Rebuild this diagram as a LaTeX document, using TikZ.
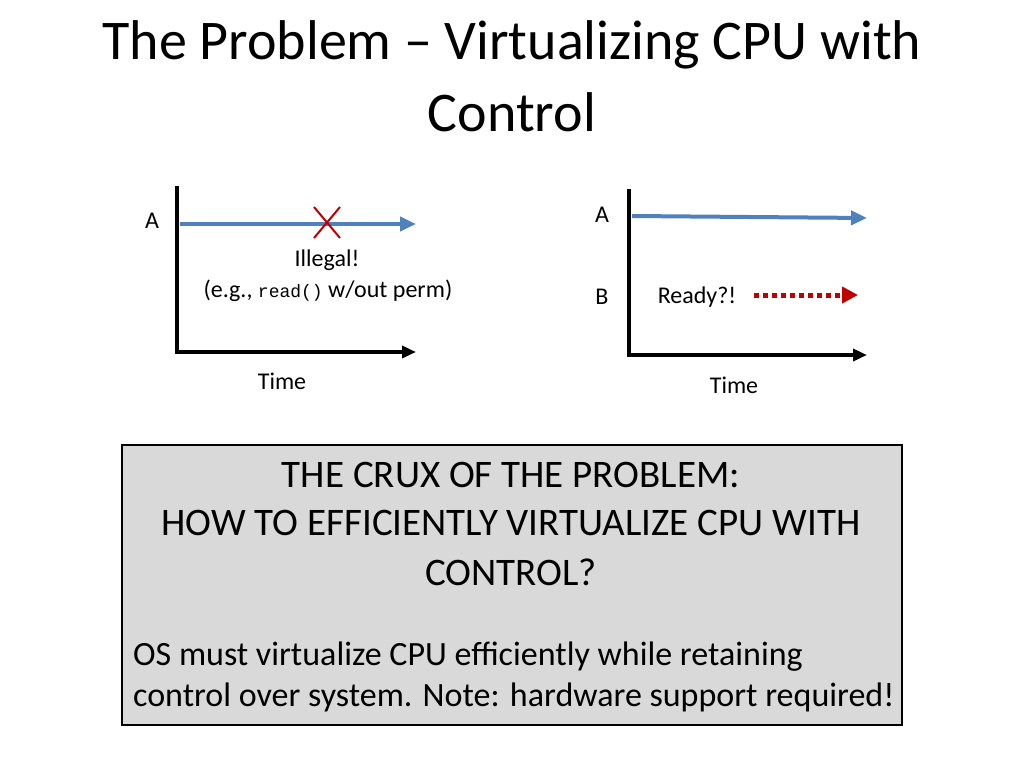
\documentclass[tikz,border=0pt]{standalone}
\usepackage{fontspec}
\setmainfont{Carlito}
\setmonofont{Liberation Mono}
\usetikzlibrary{arrows.meta}
\begin{document}
\begin{tikzpicture}[x=1pt,y=-1pt,
  ax/.style={line width=4pt,-{Triangle[length=14pt,width=12pt]}},
  bl/.style={color={rgb,255:red,79;green,129;blue,189},line width=4pt,-{Triangle[length=16pt,width=14pt]}},
  lbl/.style={font=\fontsize{24}{28}\selectfont,inner sep=0pt},
  crux/.style={font=\fontsize{39}{44}\selectfont,inner sep=0pt},
  os/.style={font=\fontsize{34}{40}\selectfont,inner sep=0pt}]
\useasboundingbox (0,0) rectangle (1024,768);
\node[inner sep=0pt,font=\fontsize{56}{64}\selectfont] (t1) at (512,45) {The Problem -- Virtualizing CPU with};
\node[inner sep=0pt,font=\fontsize{56}{64}\selectfont] (t2) at (512,112) {Control};
% left chart
\coordinate (ltop) at (177,186);
\coordinate (lr) at (416,352);
\draw[line width=4pt] (ltop) -- (177,354);
\draw[ax] (175,352) -- (lr);
\coordinate (la1) at (180,224);
\coordinate (la2) at (416,224);
\draw[bl] (la1) -- (la2);
\draw[line width=2pt,draw={rgb,255:red,192;green,0;blue,0}] (314,207) -- (340,238) (340,207) -- (314,238);
\node[lbl] (A1) at (152,221) {A};
\node[lbl] (il) at (327,260) {Illegal!};
\node[lbl] (eg) at (328,291) {(e.g., {\ttfamily\fontsize{18}{20}\selectfont read()} w/out perm)};
\node[lbl] (tm1) at (282,381) {Time};
% right chart
\coordinate (rtop) at (629,189);
\coordinate (rr) at (867,355);
\draw[line width=4pt] (rtop) -- (629,357);
\draw[ax] (627,355) -- (rr);
\coordinate (ra1) at (632,216);
\coordinate (ra2) at (867,218);
\draw[bl] (ra1) -- (ra2);
\node[lbl] (A2) at (602,215) {A};
\node[lbl] (B2) at (602,297) {B};
\node[lbl] (rd) at (697,297) {Ready?!};
\coordinate (rd1) at (754,295);
\coordinate (rd2) at (858,295);
\draw[line width=5pt,draw={rgb,255:red,192;green,0;blue,0},dash pattern=on 5pt off 4pt,-{Triangle[length=16pt,width=16pt,fill={rgb,255:red,192;green,0;blue,0}]}] (rd1) -- (rd2);
\node[lbl] (tm2) at (734,385) {Time};
% box
\draw[fill={rgb,255:red,217;green,217;blue,217},line width=1.5pt] (122,445) rectangle (902,725);
\node[crux] (c1) at (511,475) {THE CRUX OF THE PROBLEM:};
\node[crux] (c2) at (511,523) {HOW TO EFFICIENTLY VIRTUALIZE CPU WITH};
\node[crux] (c3) at (511,572) {CONTROL?};
\node[os,anchor=west] (o1) at (133,657) {OS must virtualize CPU efficiently while retaining};
\node[os,anchor=west] (o2) at (133,697) {control over system. Note: hardware support required!};
\end{tikzpicture}
\end{document}
